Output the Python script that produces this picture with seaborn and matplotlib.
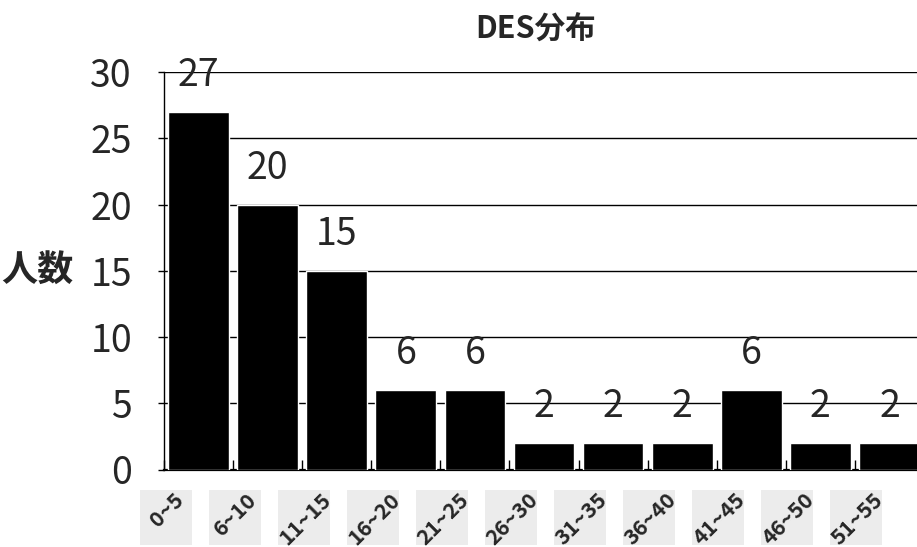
import numpy as np
import matplotlib
matplotlib.use("Agg")
import matplotlib.pyplot as plt
import matplotlib.transforms as mtransforms
from matplotlib.patches import Rectangle
import seaborn as sns

# DES score ranges and head counts
ranges = ["0~5", "6~10", "11~15", "16~20", "21~25", "26~30",
          "31~35", "36~40", "41~45", "46~50", "51~55"]
counts = [27, 20, 15, 6, 6, 2, 2, 2, 6, 2, 2]
y_ticks = [0, 5, 10, 15, 20, 25, 30]

sns.set_style("white")
plt.rcParams["font.family"] = ["Noto Sans CJK JP", "DejaVu Sans"]

W, H = 917, 547
DPI = 100
ax_left, ax_right, ax_bottom, ax_top = 164, 924, 469.5, 72
fig = plt.figure(figsize=(W / DPI, H / DPI), dpi=DPI)
ax = fig.add_axes([ax_left / W, (H - ax_bottom) / H,
                   (ax_right - ax_left) / W, (ax_bottom - ax_top) / H])

sns.barplot(x=ranges, y=counts, color="black", saturation=1, width=0.88,
            ax=ax, zorder=3)

ax.set_ylim(0, 30)
ax.set_xlim(-0.5, len(ranges) - 0.5)
ax.set_yticks(y_ticks)
ax.yaxis.grid(True, color="black", linewidth=1.0)
ax.set_axisbelow(True)

for side in ("top", "right"):
    ax.spines[side].set_visible(False)
ax.spines["left"].set_color("black")
ax.spines["left"].set_linewidth(1.0)
ax.spines["bottom"].set_color("black")
ax.spines["bottom"].set_linewidth(1.6)

ax.tick_params(axis="y", which="major", left=True, length=4, width=1,
               color="black", labelsize=27, pad=19)

# Category boundary ticks pointing up into the plot
ax.set_xticks(np.arange(-0.5, len(ranges), 1), minor=True)
ax.tick_params(axis="x", which="minor", bottom=True, direction="in",
               length=7, width=1, color="black")

# Rotated range labels, shifted left of each bar
ax.set_xticks(range(len(ranges)))
ax.set_xticklabels(ranges, rotation=45, ha="center", fontsize=15.5,
                   fontweight="bold")
ax.tick_params(axis="x", which="major", length=0, pad=14)
shift = mtransforms.ScaledTranslation(-32 / DPI, 0, fig.dpi_scale_trans)
for lab in ax.get_xticklabels():
    lab.set_transform(lab.get_transform() + shift)

# Light grey panels behind each range label
cell_px = (ax_right - ax_left) / len(ranges)
box_w, box_h = 52, 55
box_cx, box_cy = -33, 517 - ax_bottom
panel_shift = mtransforms.ScaledTranslation(
    (box_cx - box_w / 2) / DPI, -(box_cy + box_h / 2) / DPI, fig.dpi_scale_trans)
panel_trans = ax.get_xaxis_transform() + panel_shift
for i in range(len(ranges)):
    ax.add_patch(Rectangle((i, 0), box_w / cell_px, box_h / (ax_bottom - ax_top),
                           transform=panel_trans, facecolor="#ececec",
                           edgecolor="none", clip_on=False, zorder=0.2))

ax.set_xlabel("")
ax.set_ylabel("人数", rotation=0, fontsize=26, fontweight="bold",
              ha="right", va="center")
ax.yaxis.set_label_coords((73 - ax_left) / (ax_right - ax_left), 0.5)

ax.bar_label(ax.containers[0], labels=[str(c) for c in counts],
             fontsize=27, padding=12)

fig.text(536 / W, 1 - 30 / H, "DES分布", ha="center", va="center",
         fontsize=22, fontweight="bold")

fig.savefig("out.png", dpi=DPI)
